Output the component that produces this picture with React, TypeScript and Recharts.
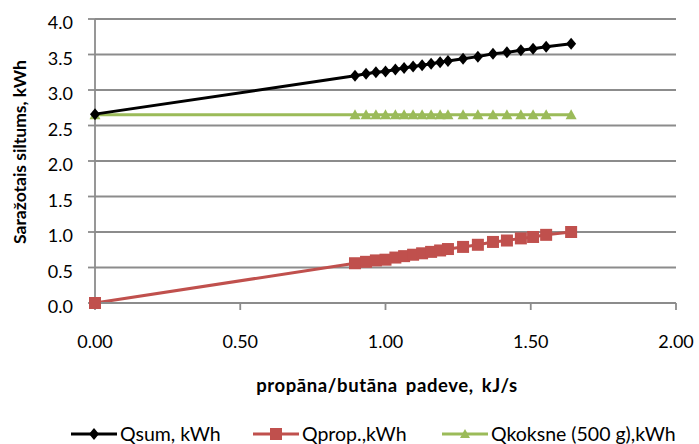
import React from 'react';
import { LineChart, Line, XAxis, YAxis, CartesianGrid, Legend } from 'recharts';

const xValues = [0, 0.895, 0.933, 0.967, 1.0, 1.034, 1.064, 1.095, 1.126, 1.157, 1.188, 1.215, 1.267, 1.318, 1.37, 1.418, 1.466, 1.508, 1.553, 1.639];
const qsum = [2.66, 3.2, 3.23, 3.25, 3.26, 3.29, 3.31, 3.33, 3.35, 3.37, 3.39, 3.41, 3.44, 3.47, 3.51, 3.53, 3.56, 3.58, 3.61, 3.65];
const qprop = [0, 0.56, 0.58, 0.6, 0.61, 0.64, 0.66, 0.68, 0.7, 0.72, 0.74, 0.76, 0.79, 0.82, 0.86, 0.88, 0.91, 0.93, 0.96, 1.0];
const qkoksne = [2.65, 2.65, 2.65, 2.65, 2.65, 2.65, 2.65, 2.65, 2.65, 2.65, 2.65, 2.65, 2.65, 2.65, 2.65, 2.65, 2.65, 2.65, 2.65, 2.65];

const xTicks = [0, 0.5, 1, 1.5, 2];
const yTicks = [0, 0.5, 1, 1.5, 2, 2.5, 3, 3.5, 4];

const seriesNames = ['Qsum, kWh', 'Qprop.,kWh', 'Qkoksne (500 g),kWh'];
const xTitle = 'propāna/butāna padeve, kJ/s';
const yTitle = 'Saražotais siltums, kWh';

const BLACK = '#000000';
const RED = '#C0504D';
const GREEN = '#9BBB59';
const GRID = '#8C8C8C';
const FONT = 'Lato, "Open Sans", sans-serif';

const data = xValues.map((x, i) => ({ x, qsum: qsum[i], qprop: qprop[i], qkoksne: qkoksne[i] }));

const Diamond = (p: any) => {
  const { cx, cy } = p;
  if (cx == null || cy == null) return <g key={p.index} />;
  return <path key={p.index} d={`M${cx},${cy - 6} L${cx + 5},${cy} L${cx},${cy + 6} L${cx - 5},${cy} Z`} fill={BLACK} />;
};
const Square = (p: any) => {
  const { cx, cy } = p;
  if (cx == null || cy == null) return <g key={p.index} />;
  return <rect key={p.index} x={cx - 6} y={cy - 6} width={12} height={12} fill={RED} />;
};
const Triangle = (p: any) => {
  const { cx, cy } = p;
  if (cx == null || cy == null) return <g key={p.index} />;
  return <path key={p.index} d={`M${cx},${cy - 5.5} L${cx + 5.5},${cy + 4.5} L${cx - 5.5},${cy + 4.5} Z`} fill={GREEN} />;
};

const LegendIcon = ({ color, kind }: { color: string; kind: string }) => {
  const cx = 23, cy = 9;
  let marker: React.ReactNode = null;
  if (kind === 'diamond') marker = <path d={`M${cx},${cy - 6} L${cx + 5},${cy} L${cx},${cy + 6} L${cx - 5},${cy} Z`} fill={color} />;
  else if (kind === 'square') marker = <rect x={cx - 6} y={cy - 6} width={12} height={12} fill={color} />;
  else marker = <path d={`M${cx},${cy - 5} L${cx + 5},${cy + 4} L${cx - 5},${cy + 4} Z`} fill={color} />;
  return (
    <svg width={46} height={18} style={{ display: 'block' }}>
      <line x1={0} y1={cy} x2={46} y2={cy} stroke={color} strokeWidth={3} />
      {marker}
    </svg>
  );
};

const legendItems = [
  { name: seriesNames[0], color: BLACK, kind: 'diamond', left: 71 },
  { name: seriesNames[1], color: RED, kind: 'square', left: 253 },
  { name: seriesNames[2], color: GREEN, kind: 'triangle', left: 442 },
];

const renderLegend = () => (
  <div style={{ position: 'relative', width: 699, height: 28, fontFamily: FONT, fontSize: 19.5, color: '#000' }}>
    {legendItems.map((it, i) => (
      <div key={i} style={{ position: 'absolute', left: it.left, top: 8, height: 20, display: 'flex', alignItems: 'center', whiteSpace: 'nowrap' }}>
        <LegendIcon color={it.color} kind={it.kind} />
        <span style={{ marginLeft: 3, lineHeight: '20px' }}>{it.name}</span>
      </div>
    ))}
  </div>
);

const YTick = (props: any) => {
  const { x, y, payload } = props;
  return (
    <text x={x} y={y + 3} textAnchor="end" dominantBaseline="central" fontFamily={FONT} fontSize={18} fill="#000">
      {Number(payload.value).toFixed(1)}
    </text>
  );
};

const XTick = (props: any) => {
  const { x, y, payload } = props;
  return (
    <text x={x} y={y} textAnchor="middle" dominantBaseline="central" fontFamily={FONT} fontSize={18} fill="#000">
      {Number(payload.value).toFixed(2)}
    </text>
  );
};

export default function App() {
  return (
    <div style={{ position: 'absolute', left: 0, top: 0, width: 699, height: 444, background: '#fff' }}>
      <LineChart width={699} height={444} data={data} margin={{ top: 19, right: 23, left: 0, bottom: 0 }}>
        <CartesianGrid vertical={false} stroke={GRID} strokeWidth={1.8} />
        <XAxis
          dataKey="x"
          type="number"
          domain={[0, 2]}
          ticks={xTicks}
          stroke={GRID}
          strokeWidth={1.8}
          tickSize={7}
          tickMargin={31}
          height={113}
          tick={<XTick />}
          label={{
            content: () => (
              <text x={387} y={392} textAnchor="middle" fontFamily={FONT} fontWeight="bold" fontSize={18.5} fill="#000" style={{ wordSpacing: 3, letterSpacing: 0.6 }}>
                {xTitle}
              </text>
            ),
          }}
        />
        <YAxis
          type="number"
          domain={[0, 4]}
          ticks={yTicks}
          stroke={GRID}
          strokeWidth={1.8}
          tickSize={7}
          tickMargin={15}
          width={95}
          tick={<YTick />}
          label={{
            content: () => (
              <text x={19} y={152} transform="rotate(-90 19 152)" textAnchor="middle" dominantBaseline="central" fontFamily={FONT} fontWeight="bold" fontSize={17.5} fill="#000">
                {yTitle}
              </text>
            ),
          }}
        />
        <Legend verticalAlign="bottom" content={renderLegend} />
        <Line dataKey="qkoksne" name={seriesNames[2]} stroke={GREEN} strokeWidth={3} dot={Triangle} isAnimationActive={false} />
        <Line dataKey="qprop" name={seriesNames[1]} stroke={RED} strokeWidth={3} dot={Square} isAnimationActive={false} />
        <Line dataKey="qsum" name={seriesNames[0]} stroke={BLACK} strokeWidth={3} dot={Diamond} isAnimationActive={false} />
      </LineChart>
    </div>
  );
}
